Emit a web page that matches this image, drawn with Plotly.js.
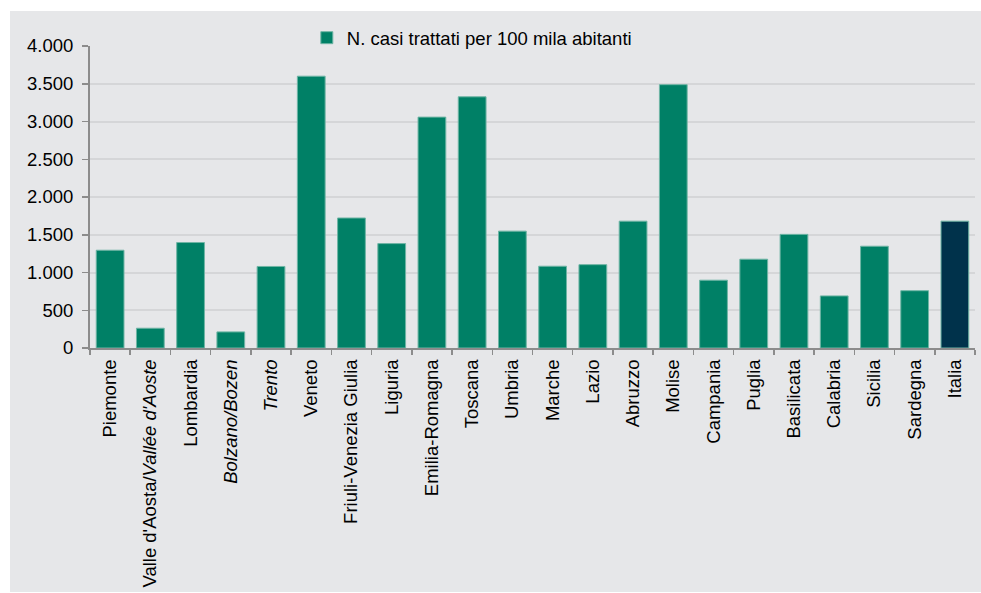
<!DOCTYPE html>
<html>
<head>
<meta charset="utf-8">
<script src="https://cdn.plot.ly/plotly-3.0.1.min.js"></script>
<style>html,body{margin:0;padding:0;background:#fff;}#chart{width:981px;height:593px;}</style>
</head>
<body>
<div id="chart"></div>
<script>
const categories = ["Piemonte","Valle d'Aosta/Vallée d'Aoste","Lombardia","Bolzano/Bozen","Trento","Veneto","Friuli-Venezia Giulia","Liguria","Emilia-Romagna","Toscana","Umbria","Marche","Lazio","Abruzzo","Molise","Campania","Puglia","Basilicata","Calabria","Sicilia","Sardegna","Italia"];
const tickLabels = ["Piemonte","Valle d'Aosta/<i>Vallée d'Aoste</i>","Lombardia","<i>Bolzano/Bozen</i>","<i>Trento</i>","Veneto","Friuli-Venezia Giulia","Liguria","Emilia-Romagna","Toscana","Umbria","Marche","Lazio","Abruzzo","Molise","Campania","Puglia","Basilicata","Calabria","Sicilia","Sardegna","Italia"];
const casiPer100k = [1295,262,1397,213,1080,3600,1722,1383,3058,3327,1548,1083,1104,1680,3488,898,1176,1505,690,1348,759,1680];
const seriesName = "N. casi trattati per 100 mila abitanti";
const regionColor = "#008066";
const italiaColor = "#00324b";
const barColors = categories.map(c => c === "Italia" ? italiaColor : regionColor);

const fontFam = "'Liberation Sans', Arial, sans-serif";
const bg = "#e6e7e9";
const txt = "#000000";
const fs = 18.5;

const trace = {
  type: "bar",
  x: categories,
  y: casiPer100k,
  name: seriesName,
  showlegend: true,
  marker: {color: barColors, line: {color: "#6fb5a5", width: 1}},
  hoverinfo: "x+y"
};

const layout = {
  width: 981, height: 593,
  margin: {l: 90, r: 6, t: 46, b: 245, pad: 0},
  paper_bgcolor: "#ffffff",
  plot_bgcolor: bg,
  separators: ",.",
  font: {family: fontFam, size: fs, color: txt},
  bargap: 0.31,
  showlegend: true,
  legend: {
    orientation: "h", x: 0.245, xanchor: "left", y: 1.026, yanchor: "middle",
    bgcolor: "rgba(0,0,0,0)", font: {family: fontFam, size: fs, color: txt},
    itemwidth: 30
  },
  xaxis: {
    type: "category",
    tickmode: "array", tickvals: categories, ticktext: tickLabels,
    tickson: "boundaries",
    tickangle: -90,
    ticks: "outside", ticklen: 5, tickcolor: "#8c8c8c", tickwidth: 1.5,
    ticklabelstandoff: 2,
    showline: true, linecolor: "#8c8c8c", linewidth: 2,
    showgrid: false, zeroline: false,
    tickfont: {family: fontFam, size: fs, color: txt}
  },
  yaxis: {
    range: [0, 4000], dtick: 500, tick0: 0,
    tickformat: ",d",
    ticks: "outside", ticklen: 6, tickcolor: "#8c8c8c", tickwidth: 1.5,
    ticklabelstandoff: 5,
    showline: true, linecolor: "#8c8c8c", linewidth: 2,
    showgrid: true, gridcolor: "#d5d6d8", gridwidth: 2,
    zeroline: false,
    tickfont: {family: fontFam, size: fs, color: txt}
  },
  shapes: [{
    type: "rect", xref: "paper", yref: "paper", layer: "below",
    x0: -0.0904, x1: 1.0068, y0: -0.808, y1: 1.116,
    fillcolor: bg, line: {width: 0}
  }]
};

Plotly.newPlot("chart", [trace], layout, {displayModeBar: false, staticPlot: true});
</script>
</body>
</html>
